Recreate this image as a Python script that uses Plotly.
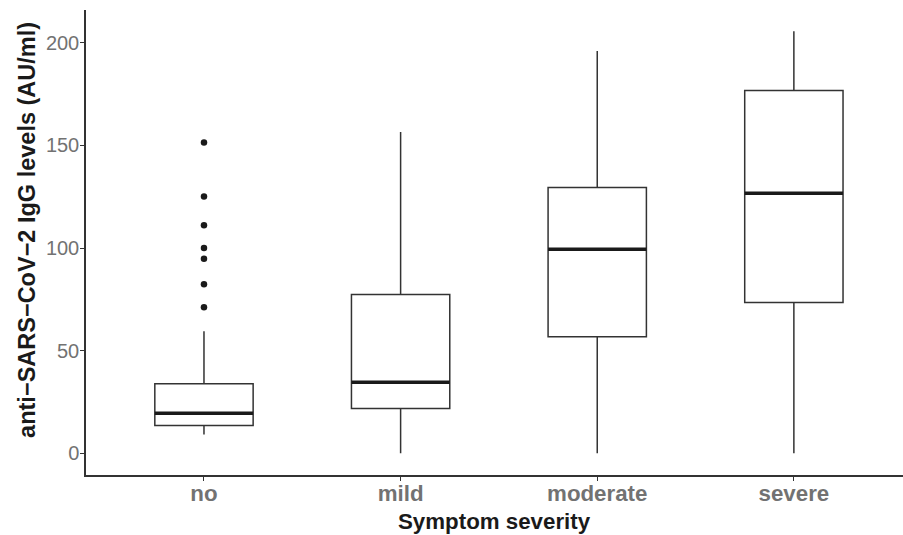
import plotly.graph_objects as go

categories = ["no", "mild", "moderate", "severe"]
lower_whisker = [9.1, 0.0, 0.0, 0.0]
q1_vals = [13.5, 21.8, 56.8, 73.5]
median_vals = [19.5, 34.6, 99.4, 126.7]
q3_vals = [33.9, 77.4, 129.5, 176.8]
upper_whisker = [59.5, 156.6, 196.0, 205.7]
outlier_group = ["no", "no", "no", "no", "no", "no", "no"]
outlier_vals = [151.4, 125.1, 111.1, 100.0, 94.8, 82.3, 71.2]
y_ticks = [0, 50, 100, 150, 200]

LINE = "#333333"
BOX_W = 0.5
FONT = "Liberation Sans, Arial, sans-serif"
idx = {c: i for i, c in enumerate(categories)}

fig = go.Figure()
fig.add_trace(go.Box(
    x=list(range(len(categories))),
    q1=q1_vals, median=median_vals, q3=q3_vals,
    lowerfence=lower_whisker, upperfence=upper_whisker,
    width=BOX_W, whiskerwidth=0,
    line=dict(color=LINE, width=1.5),
    fillcolor="white", boxpoints=False, showlegend=False, hoverinfo="skip",
))
# thicker median lines (ggplot fatten)
for i, m in enumerate(median_vals):
    fig.add_trace(go.Scatter(
        x=[i - BOX_W / 2, i + BOX_W / 2], y=[m, m], mode="lines",
        line=dict(color="#1a1a1a", width=3.4), showlegend=False, hoverinfo="skip",
    ))
fig.add_trace(go.Scatter(
    x=[idx[g] for g in outlier_group], y=outlier_vals, mode="markers",
    marker=dict(color="#1a1a1a", size=6.5), showlegend=False, hoverinfo="skip",
))

fig.update_layout(
    width=903, height=535,
    margin=dict(l=86, r=0, t=10, b=60),
    plot_bgcolor="white", paper_bgcolor="white",
    font=dict(family=FONT),
    annotations=[
        dict(text="<b>Symptom severity</b>", xref="paper", yref="paper",
             x=0.5, y=-0.1004, xanchor="center", yanchor="middle", showarrow=False,
             font=dict(size=22.3, color="#1a1a1a", family=FONT)),
        dict(text="<b>anti\u2212SARS\u2212CoV\u22122 IgG levels (AU/ml)</b>", xref="paper", yref="paper",
             x=-0.0723, y=0.527, xanchor="center", yanchor="middle", textangle=-90, showarrow=False,
             font=dict(size=23.5, color="#1a1a1a", family=FONT)),
    ],
)
fig.update_xaxes(
    range=[-0.6, 3.555], tickmode="array",
    tickvals=list(range(len(categories))), ticktext=categories,
    showline=True, linecolor="#333333", linewidth=1.5,
    ticks="outside", ticklen=4, tickcolor="#333333", tickwidth=1,
    showgrid=False, zeroline=False, automargin=False,
    ticklabelstandoff=-7,
    tickfont=dict(size=22.3, color="#727272", family=FONT, weight="bold"),
)
fig.update_yaxes(
    range=[-10.6, 216], tickmode="array", tickvals=y_ticks,
    showline=True, linecolor="#333333", linewidth=1.5,
    ticks="outside", ticklen=4, tickcolor="#333333", tickwidth=1,
    showgrid=False, zeroline=False, automargin=False,
    ticklabelstandoff=-3,
    tickfont=dict(size=20, color="#727272", family=FONT),
)

fig.write_html("out.html", config={"displayModeBar": False},
               post_script="document.body.style.margin='0';document.body.style.overflow='hidden';")
